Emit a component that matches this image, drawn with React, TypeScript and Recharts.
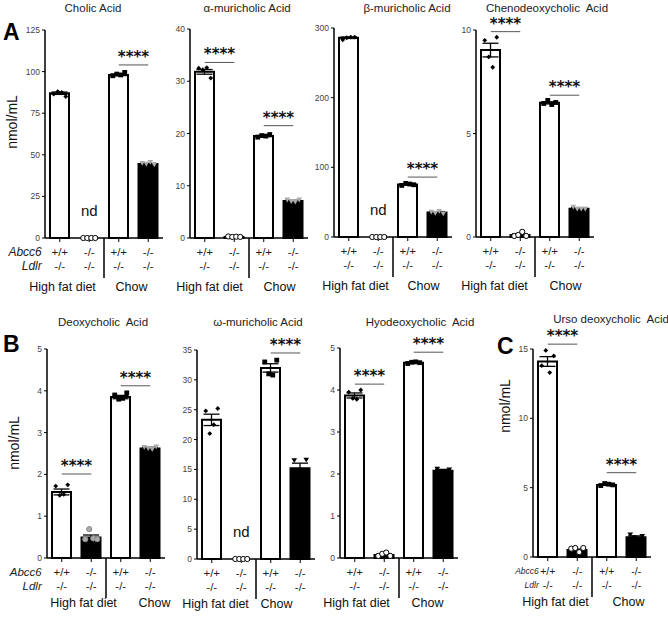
import { Bar, Cell, ComposedChart, ErrorBar, ReferenceDot, ReferenceLine, Scatter, XAxis, YAxis } from "recharts"

const FONT = '"Liberation Sans", Arial, Helvetica, sans-serif'

// shared categories / labels
const cats = ["hfdWT", "hfdKO", "chowWT", "chowKO"]
const abcc6Labels = ["+/+", "-/-", "+/+", "-/-"]
const ldlrLabels = ["-/-", "-/-", "-/-", "-/-"]
const groupLabels = ["High fat diet", "Chow"]
const barFills = ["#fff", "#000", "#fff", "#000"]
const dotOffsets = [-6, -2, 2, 6]

// Cholic acid
const cholicTicks = [0, 25, 50, 75, 100, 125]
const cholicMeans = [87, 0, 98, 44.5]
const cholicSem = [0.7, 0, 0.4, 0.35]
const cholicDots = [[86.5, 88, 87.5, 85], [0, 0, 0, 0], [97.5, 98.5, 98, 99.5], [45, 44.5, 45.5, 44]]
const cholicSig = [[2, 3, 104]]

// alpha-muricholic acid
const alphaTicks = [0, 10, 20, 30, 40]
const alphaMeans = [31.8, 0.2, 19.5, 7.1]
const alphaSem = [0.45, 0.03, 0.12, 0.12]
const alphaDots = [[32.5, 32.2, 32.6, 30.6], [0.3, 0.2, 0.25, 0.2], [19.3, 19.6, 19.5, 19.8], [7.3, 7, 6.9, 7.3]]
const alphaSig = [[0, 1, 33.6], [2, 3, 21.5]]

// beta-muricholic acid
const betaTicks = [0, 100, 200, 300]
const betaMeans = [286, 0, 75.5, 35]
const betaSem = [1, 0, 1, 1.5]
const betaDots = [[283, 286, 287, 287], [0, 0, 0, 0], [74, 77, 76, 75], [36, 34, 37, 33.5]]
const betaSig = [[2, 3, 86]]

// chenodeoxycholic acid
const chenoTicks = [0, 5, 10]
const chenoMeans = [9.03, 0.1, 6.48, 1.37]
const chenoSem = [0.33, 0.05, 0.05, 0.05]
const chenoDots = [[9.5, 8.7, 8.2, 9.65], [0.05, 0.1, 0.25, 0.05], [6.45, 6.6, 6.4, 6.5], [1.45, 1.35, 1.35, 1.35]]
const chenoSig = [[0, 1, 9.92], [2, 3, 6.85]]

// deoxycholic acid
const deoxyTicks = [0, 1, 2, 3, 4, 5]
const deoxyMeans = [1.58, 0.49, 3.85, 2.62]
const deoxySem = [0.07, 0.06, 0.04, 0.03]
const deoxyDots = [[1.72, 1.5, 1.52, 1.75], [0.45, 0.69, 0.47, 0.45], [3.9, 3.8, 3.82, 3.95], [2.65, 2.62, 2.6, 2.66]]
const deoxySig = [[0, 1, 2.01], [2, 3, 4.12]]

// omega-muricholic acid
const omegaTicks = [0, 5, 10, 15, 20, 25, 30, 35]
const omegaMeans = [23.3, 0, 32, 15.2]
const omegaSem = [0.95, 0, 0.7, 0.85]
const omegaDots = [[24.8, 21, 22.5, 25.2], [0, 0, 0, 0], [33, 31, 30.8, 33.3], [16.5, 14.2, 13.6, 16.6]]
const omegaSig = [[2, 3, 34.5]]

// hyodeoxycholic acid
const hyoTicks = [0, 1, 2, 3, 4, 5]
const hyoMeans = [3.87, 0.07, 4.65, 2.08]
const hyoSem = [0.06, 0.02, 0.01, 0.03]
const hyoDots = [[3.95, 3.8, 3.78, 4.0], [0.05, 0.1, 0.13, 0.05], [4.63, 4.66, 4.67, 4.65], [2.12, 2.05, 2.06, 2.1]]
const hyoSig = [[0, 1, 4.14], [2, 3, 4.9]]

// ursodeoxycholic acid
const ursoTicks = [0, 5, 10, 15]
const ursoMeans = [14.1, 0.5, 5.2, 1.42]
const ursoSem = [0.35, 0.07, 0.04, 0.1]
const ursoDots = [[13.8, 14.9, 13.3, 14.5], [0.6, 0.65, 0.35, 0.65], [5.15, 5.3, 5.25, 5.2], [1.6, 1.4, 1.2, 1.5]]
const ursoSig = [[0, 1, 15.35], [2, 3, 6.08]]

const YAW = 40
const PLOT_W = 118
const BAND = PLOT_W / 4
const TOPM = 32
const XAH = 62

const panels = [
  { title: "Cholic Acid", ticks: cholicTicks, means: cholicMeans, sem: cholicSem, dots: cholicDots, sig: cholicSig, nd: 16.5, left: 45, top: 30, bottom: 238, rowLabels: 12, rowGap: 18, hfdShift: -12, chowShift: -2, groupDy: 49, tri: "#aaa", koDot: "open" },
  { title: "α-muricholic Acid", ticks: alphaTicks, means: alphaMeans, sem: alphaSem, dots: alphaDots, sig: alphaSig, nd: null, left: 190, top: 29, bottom: 238, rowLabels: 0, rowGap: 0, hfdShift: -10, chowShift: 1, groupDy: 49, tri: "#aaa", koDot: "open" },
  { title: "β-muricholic Acid", ticks: betaTicks, means: betaMeans, sem: betaSem, dots: betaDots, sig: betaSig, nd: 39, left: 333.5, top: 28, bottom: 237, rowLabels: 0, rowGap: 0, hfdShift: -8, chowShift: 1, groupDy: 49, tri: "#aaa", koDot: "open" },
  { title: "Chenodeoxycholic  Acid", ticks: chenoTicks, means: chenoMeans, sem: chenoSem, dots: chenoDots, sig: chenoSig, nd: null, left: 476, top: 30, bottom: 237, rowLabels: 0, rowGap: 0, hfdShift: -11, chowShift: 1, groupDy: 49, tri: "#aaa", koDot: "open" },
  { title: "Deoxycholic  Acid", ticks: deoxyTicks, means: deoxyMeans, sem: deoxySem, dots: deoxyDots, sig: deoxySig, nd: null, left: 47, top: 349, bottom: 558, rowLabels: 11.5, rowGap: 20, hfdShift: 7, chowShift: 19, groupDy: 45, tri: "#aaa", koDot: "gray" },
  { title: "ω-muricholic Acid", ticks: omegaTicks, means: omegaMeans, sem: omegaSem, dots: omegaDots, sig: omegaSig, nd: 4.6, left: 197, top: 350, bottom: 559, rowLabels: 0, rowGap: 0, hfdShift: -11, chowShift: -9, groupDy: 45, tri: "#000", koDot: "open" },
  { title: "Hyodeoxycholic  Acid", ticks: hyoTicks, means: hyoMeans, sem: hyoSem, dots: hyoDots, sig: hyoSig, nd: null, left: 339.5, top: 348, bottom: 558, rowLabels: 0, rowGap: 0, hfdShift: -13, chowShift: -1, groupDy: 45, tri: "#000", koDot: "open" },
  { title: "Urso deoxycholic  Acid", ticks: ursoTicks, means: ursoMeans, sem: ursoSem, dots: ursoDots, sig: ursoSig, nd: null, left: 533, top: 349, bottom: 557, rowLabels: 8.5, rowGap: 9, hfdShift: -7, chowShift: 7, groupDy: 45, tri: "#000", koDot: "open" },
]

const titlePos = [[93, 8], [247, 8], [407, 8], [547, 8], [103, 322], [258, 322], [420, 322], [611, 319]]

function Marker(props: any) {
  const { cx, cy, idx, panel } = props
  if (cx == null || cy == null) return null
  if (idx === 0) {
    const s = 2.4
    return <polygon points={`${cx},${cy - s} ${cx + s},${cy} ${cx},${cy + s} ${cx - s},${cy}`} fill="#000" />
  }
  if (idx === 1) {
    if (panel.koDot === "gray") return <circle cx={cx} cy={cy} r={2.6} fill="#aaa" stroke="#888" strokeWidth={1} />
    return <circle cx={cx} cy={cy} r={2.6} fill="#fff" stroke="#000" strokeWidth={1} />
  }
  if (idx === 2) return <rect x={cx - 2.4} y={cy - 2.4} width={4.8} height={4.8} fill="#000" />
  const s = 2.8
  return <polygon points={`${cx - s},${cy - s * 0.8} ${cx + s},${cy - s * 0.8} ${cx},${cy + s * 0.9}`} fill={panel.tri} />
}

function GenoTick(props: any) {
  const { x, y, index, panel } = props
  const ay = y - 4
  const fs = panel.rowLabels === 8.5 ? 10.5 : 11.5
  const items = [
    <text key="a" x={x} y={ay + 14} textAnchor="middle" dominantBaseline="central" fontSize={fs} fill="#222">{abcc6Labels[index]}</text>,
    <text key="l" x={x} y={ay + 28} textAnchor="middle" dominantBaseline="central" fontSize={fs} fill="#222">{ldlrLabels[index]}</text>,
  ]
  if (index === 0) {
    if (panel.rowLabels) {
      items.push(<text key="ra" x={x - panel.rowGap} y={ay + 14} textAnchor="end" dominantBaseline="central" fontSize={panel.rowLabels} fontStyle="italic" fill="#222">Abcc6</text>)
      items.push(<text key="rl" x={x - panel.rowGap} y={ay + 28} textAnchor="end" dominantBaseline="central" fontSize={panel.rowLabels} fontStyle="italic" fill="#222">Ldlr</text>)
    }
    items.push(<text key="g" x={x + BAND / 2 + panel.hfdShift} y={ay + panel.groupDy} textAnchor="middle" dominantBaseline="central" fontSize={12.5} fill="#111">{groupLabels[0]}</text>)
  }
  if (index === 1) {
    items.push(<line key="d" x1={x + BAND / 2} x2={x + BAND / 2} y1={ay} y2={ay + 40} stroke="#000" strokeWidth={1.5} />)
  }
  if (index === 2) {
    items.push(<text key="c" x={x + BAND / 2 + panel.chowShift} y={ay + panel.groupDy} textAnchor="middle" dominantBaseline="central" fontSize={12.5} fill="#111">{groupLabels[1]}</text>)
  }
  return <g fontFamily={FONT}>{items}</g>
}

function Panel({ panel }: any) {
  const plotH = panel.bottom - panel.top
  const width = YAW + PLOT_W + 6
  const height = TOPM + plotH + XAH
  const max = panel.ticks[panel.ticks.length - 1]
  const rows = cats.map((c, i) => ({
    cat: c,
    idx: i,
    mean: panel.means[i],
    sem: panel.sem[i],
    d0: panel.dots[i][0],
    d1: panel.dots[i][1],
    d2: panel.dots[i][2],
    d3: panel.dots[i][3],
  }))
  return (
    <div style={{ position: "absolute", left: panel.left - YAW, top: panel.top - TOPM }}>
      <ComposedChart width={width} height={height} data={rows} margin={{ top: TOPM, right: 6, left: 0, bottom: 0 }}>
        <XAxis
          dataKey="cat"
          height={XAH}
          interval={0}
          tickSize={4}
          tickMargin={0}
          axisLine={{ stroke: "#000", strokeWidth: 1.5 }}
          tickLine={{ stroke: "#000" }}
          tick={(p: any) => <GenoTick {...p} panel={panel} />}
        />
        <YAxis
          domain={[0, max]}
          ticks={panel.ticks}
          interval={0}
          width={YAW}
          tickSize={3}
          tickMargin={2}
          axisLine={{ stroke: "#000", strokeWidth: 1.5 }}
          tickLine={{ stroke: "#000" }}
          tick={{ fontSize: 8.5, fill: "#444", fontFamily: FONT }}
        />
        <Bar dataKey="mean" barSize={19} stroke="#000" strokeWidth={2} isAnimationActive={false}>
          {rows.map((r, i) => (
            <Cell key={r.cat} fill={barFills[i]} />
          ))}
          <ErrorBar dataKey="sem" width={8} stroke="#000" strokeWidth={1.3} direction="y" />
        </Bar>
        {dotOffsets.map((off, j) => (
          <Scatter
            key={j}
            dataKey={`d${j}`}
            isAnimationActive={false}
            shape={(sp: any) => <Marker cx={sp.cx + off} cy={sp.cy} idx={sp.payload?.idx} panel={panel} />}
          />
        ))}
        {panel.sig.map((s: number[], k: number) => (
          <ReferenceLine
            key={k}
            segment={[{ x: cats[s[0]], y: s[2] }, { x: cats[s[1]], y: s[2] }]}
            stroke="#555"
            strokeWidth={1}
            ifOverflow="visible"
            label={{ value: "****", position: "top", offset: 3, fontSize: 15, fontWeight: "bold", fill: "#111", fontFamily: '"DejaVu Sans", sans-serif' }}
          />
        ))}
        {panel.nd != null && (
          <ReferenceDot
            x={cats[1]}
            y={panel.nd}
            r={0.01}
            fill="none"
            stroke="none"
            ifOverflow="visible"
            label={{ value: "nd", position: "center", fontSize: 15, fill: "#111", fontFamily: FONT }}
          />
        )}
      </ComposedChart>
    </div>
  )
}

export default function App() {
  return (
    <div style={{ position: "absolute", left: 0, top: 0, width: 668, height: 617, background: "#fff", overflow: "hidden", fontFamily: FONT }}>
      {panels.map((p) => (
        <Panel key={p.title} panel={p} />
      ))}
      <svg width={668} height={617} style={{ position: "absolute", left: 0, top: 0, pointerEvents: "none" }} fontFamily={FONT}>
        {panels.map((p, i) => (
          <text key={p.title} x={titlePos[i][0]} y={titlePos[i][1]} textAnchor="middle" dominantBaseline="central" fontSize={11.5} fill="#222" style={{ whiteSpace: "pre" }}>
            {p.title}
          </text>
        ))}
        <text x={3} y={40} fontSize={23} fontWeight="bold" fill="#000">A</text>
        <text x={3} y={352} fontSize={23} fontWeight="bold" fill="#000">B</text>
        <text x={497} y={354} fontSize={23} fontWeight="bold" fill="#000">C</text>
        <text x={12} y={122} transform="rotate(-90 12 122)" textAnchor="middle" dominantBaseline="central" fontSize={14} fill="#111">nmol/mL</text>
        <text x={14} y={443} transform="rotate(-90 14 443)" textAnchor="middle" dominantBaseline="central" fontSize={14} fill="#111">nmol/mL</text>
        <text x={505} y={406} transform="rotate(-90 505 406)" textAnchor="middle" dominantBaseline="central" fontSize={14} fill="#111">nmol/mL</text>
      </svg>
    </div>
  )
}
